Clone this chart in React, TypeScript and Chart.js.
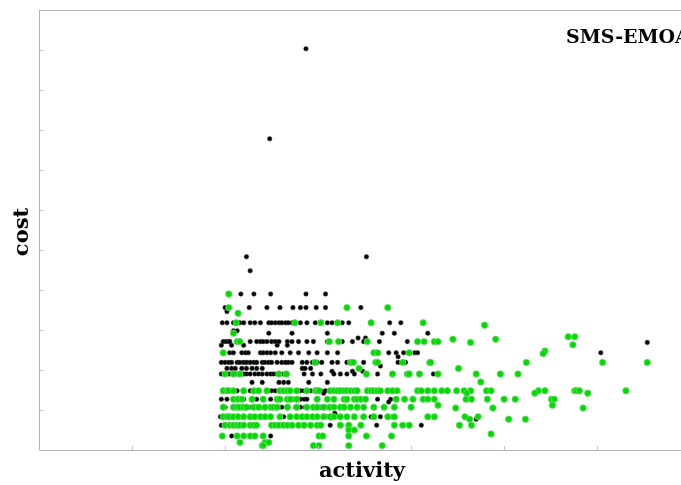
import React, { useEffect, useRef } from "react";
import Chart from "chart.js/auto";

const chartTitle = "SMS-EMOA";
const xAxisTitle = "activity";
const yAxisTitle = "cost";
const xTicks = [1, 2, 3, 4, 5, 6, 7];
const yTicks = [1, 2, 3, 4, 5, 6, 7, 8, 9, 10];

// black series: cost levels and the activity values at each level
const blackCost = [10.03, 7.78, 4.83, 4.48, 3.9, 3.56, 3.46, 3.18, 2.98, 2.92, 2.8, 2.71, 2.69, 2.62, 2.43, 2.33, 2.19, 2.1, 2.04, 1.97, 1.9, 1.69, 1.48, 1.42, 1.27, 1.2, 1.07, 0.92, 0.83, 0.8, 0.77, 0.62, 0.35];
const blackActivity = [
  [2.86],
  [2.47],
  [2.22, 3.51],
  [2.26],
  [2.16, 2.3, 2.48, 2.86, 3.07],
  [1.99, 2.25, 2.44, 2.58, 2.72, 2.8, 2.86, 2.97, 3.07, 3.45],
  [2.01],
  [1.96, 2.01, 2.08, 2.12, 2.15, 2.19, 2.26, 2.31, 2.37, 2.46, 2.49, 2.53, 2.57, 2.6, 2.64, 2.67, 2.71, 2.8, 2.87, 2.96, 3.09, 3.14, 3.2, 3.25, 3.32, 3.76, 3.88],
  [2.08, 2.12],
  [2.46, 2.71, 3.09, 3.68, 3.81, 4.17],
  [3.42, 3.5],
  [1.97, 2.0, 2.03, 2.04, 2.15, 2.26, 2.33, 2.37, 2.4, 2.44, 2.49, 2.53, 2.57, 2.66, 2.71, 2.78, 2.87, 2.94, 3.09, 3.25, 3.36, 3.48, 3.65, 3.95],
  [6.53],
  [1.95, 2.06, 2.19, 2.55, 2.66],
  [2.04, 2.08, 2.17, 2.21, 2.24, 2.37, 2.4, 2.44, 2.48, 2.53, 2.6, 2.69, 2.78, 2.89, 2.98, 3.09, 3.2, 3.64, 3.75, 3.83, 3.91, 4.03, 4.06, 6.03],
  [3.85],
  [1.95, 1.99, 2.03, 2.06, 2.12, 2.15, 2.19, 2.22, 2.26, 2.3, 2.33, 2.39, 2.42, 2.46, 2.49, 2.55, 2.6, 2.64, 2.67, 2.71, 2.82, 2.87, 2.93, 2.98, 3.03, 3.14, 3.2, 3.3, 3.48, 3.85, 3.93],
  [3.66],
  [2.01, 2.06, 2.1, 2.17, 2.22, 2.28, 2.33, 2.39, 2.82, 2.85, 2.91],
  [3.14, 3.36, 3.47],
  [1.95, 2.01, 2.04, 2.12, 2.19, 2.22, 2.26, 2.31, 2.35, 2.39, 2.44, 2.48, 2.51, 2.55, 2.58, 2.62, 2.84, 2.93, 3.02, 3.16, 3.23, 3.3, 3.38, 3.63, 4.23],
  [2.28, 2.39, 2.57, 2.62, 2.67, 2.89, 3.09],
  [2.12, 2.26, 2.44, 2.49, 2.53, 2.67, 2.8, 2.84, 2.91, 3.02, 3.07, 3.53],
  [3.05],
  [1.95, 2.01, 2.19, 2.33, 2.48, 2.73, 2.8, 2.84, 2.87, 3.63, 3.77],
  [3.75],
  [1.99, 2.24, 2.28, 2.31, 2.37, 2.6, 2.75, 2.8, 2.85, 3.02, 3.09],
  [3.17],
  [1.94, 2.04, 2.44, 2.62, 3.09, 3.2, 3.56, 3.66, 3.79],
  [3.13],
  [4.69],
  [1.95, 2.31, 2.82, 3.12, 3.62, 4.1],
  [2.06, 2.48],
];

// green series: cost levels and the activity values at each level
const greenCost = [3.9, 3.56, 3.42, 3.18, 3.12, 2.92, 2.83, 2.77, 2.71, 2.69, 2.63, 2.475, 2.43, 2.41, 2.19, 2.04, 1.9, 1.7, 1.48, 1.42, 1.27, 1.12, 1.07, 1.05, 0.83, 0.77, 0.62, 0.5, 0.4, 0.35, 0.19, 0.11];
const greenActivity = [
  [2.03],
  [2.03, 3.3, 3.74],
  [2.13],
  [2.11, 2.74, 3.02, 3.2, 3.56, 4.12],
  [4.78],
  [2.08],
  [5.68, 5.75],
  [4.44, 4.9],
  [2.12, 2.15, 3.11, 3.21, 3.52, 4.06, 4.13, 4.24, 4.28],
  [4.63],
  [5.73],
  [5.43],
  [1.97, 3.59, 3.63, 3.97],
  [5.41],
  [2.96, 3.34, 3.37, 3.61, 3.63, 3.9, 4.19, 4.2, 5.23, 6.05, 6.53],
  [3.43, 4.5],
  [1.99, 2.08, 2.15, 2.57, 2.65, 3.51, 3.79, 3.95, 3.97, 4.08, 4.28, 4.69, 4.95, 5.14],
  [4.74],
  [1.97, 2.01, 2.03, 2.08, 2.19, 2.3, 2.35, 2.44, 2.58, 2.62, 2.66, 2.69, 2.76, 2.87, 2.96, 2.98, 3.0, 3.12, 3.16, 3.2, 3.23, 3.27, 3.3, 3.34, 3.38, 3.41, 3.52, 3.56, 3.59, 3.63, 3.66, 3.74, 3.79, 3.84, 4.06, 4.1, 4.17, 4.24, 4.32, 4.38, 4.48, 4.56, 4.63, 4.8, 4.85, 5.36, 5.43, 5.75, 5.77, 5.8, 6.3],
  [4.59, 5.32, 5.89],
  [2.08, 2.13, 2.17, 2.28, 2.4, 2.55, 2.58, 2.66, 2.69, 2.76, 2.98, 3.09, 3.16, 3.27, 3.3, 3.38, 3.41, 3.45, 3.5, 3.83, 3.92, 4.01, 4.12, 4.17, 4.24, 4.58, 4.64, 4.81, 4.99, 5.11, 5.5, 5.53],
  [4.28, 5.51],
  [1.97, 2.08, 2.12, 2.15, 2.19, 2.22, 2.3, 2.35, 2.42, 2.48, 2.51, 2.55, 2.66, 2.76, 2.87, 2.94, 2.98, 3.05, 3.12, 3.16, 3.23, 3.27, 3.34, 3.41, 3.48, 3.59, 3.7, 3.81, 3.99],
  [4.47, 4.87, 5.84],
  [1.97, 2.01, 2.04, 2.08, 2.13, 2.19, 2.26, 2.31, 2.37, 2.42, 2.48, 2.58, 2.69, 2.76, 2.82, 2.87, 2.93, 2.98, 3.05, 3.12, 3.16, 3.23, 3.3, 3.38, 3.48, 3.59, 3.74, 3.81, 4.17, 4.24, 4.57, 4.71],
  [4.62, 5.04, 5.22],
  [1.99, 2.04, 2.08, 2.12, 2.15, 2.19, 2.26, 2.3, 2.33, 2.49, 2.53, 2.57, 2.62, 2.66, 2.71, 2.78, 2.84, 2.91, 2.98, 3.02, 3.23, 3.32, 3.45, 3.81, 3.9, 3.97, 4.51, 4.64],
  [3.32, 3.38],
  [4.85],
  [1.96, 2.12, 2.19, 2.26, 2.31, 2.4, 3.0, 3.04, 3.32, 3.51, 3.78],
  [2.15, 2.42, 2.46],
  [2.39, 2.4, 2.94, 3.0, 3.32, 3.68],
];

const toPoints = (levels: number[], rows: number[][]) =>
  levels.flatMap((c, i) => rows[i].map((a) => ({ x: a, y: c })));

const framePlugin = {
  id: "frame",
  afterDatasetsDraw(chart: any) {
    const { ctx, chartArea, scales } = chart;
    const { left, right, top, bottom } = chartArea;
    const xs = scales.x;
    const ys = scales.y;
    ctx.save();
    ctx.strokeStyle = "#b5b5b5";
    ctx.lineWidth = 1;
    ctx.beginPath();
    ctx.moveTo(left - 0.5, top + 0.5);
    ctx.lineTo(right, top + 0.5);
    ctx.moveTo(left - 0.5, top);
    ctx.lineTo(left - 0.5, bottom + 0.5);
    ctx.lineTo(right, bottom + 0.5);
    ctx.stroke();
    ctx.strokeStyle = "#c8c8c8";
    ctx.beginPath();
    xTicks.forEach((t) => {
      const px = Math.round(xs.getPixelForValue(t)) - 0.5;
      ctx.moveTo(px, bottom);
      ctx.lineTo(px, bottom - 4);
    });
    yTicks.forEach((t) => {
      const py = Math.round(ys.getPixelForValue(t)) + 0.5;
      ctx.moveTo(left, py);
      ctx.lineTo(left + 4, py);
    });
    ctx.stroke();

    ctx.fillStyle = "#000";
    ctx.font = "bold 19px 'DejaVu Serif'";
    ctx.textAlign = "left";
    ctx.textBaseline = "alphabetic";
    ctx.fillText(chartTitle, left + 526, top + 33);

    ctx.font = "bold 21px 'DejaVu Serif'";
    ctx.textAlign = "center";
    ctx.fillText(xAxisTitle, 362, bottom + 27);

    ctx.translate(28, (top + bottom) / 2 + 2);
    ctx.rotate(-Math.PI / 2);
    ctx.fillText(yAxisTitle, 0, 0);
    ctx.restore();
  },
};

export default function App() {
  const ref = useRef<HTMLCanvasElement>(null);
  useEffect(() => {
    if (!ref.current) return;
    const chart = new Chart(ref.current, {
      type: "scatter",
      data: {
        datasets: [
          {
            label: "green",
            data: toPoints(greenCost, greenActivity),
            backgroundColor: "#00dc00",
            borderColor: "#6fd86f",
            borderWidth: 0.8,
            pointRadius: 3.2,
          },
          {
            label: "black",
            data: toPoints(blackCost, blackActivity),
            backgroundColor: "#000000",
            borderColor: "#444444",
            borderWidth: 0.5,
            pointRadius: 2.3,
          },
        ],
      },
      plugins: [framePlugin],
      options: {
        animation: false,
        responsive: false,
        events: [],
        layout: { padding: { left: 40, top: 10, right: 16, bottom: 35 } },
        plugins: { legend: { display: false }, tooltip: { enabled: false } },
        scales: {
          x: { type: "linear", min: 0, max: 8, display: false },
          y: { type: "linear", min: 0, max: 11, display: false },
        },
      },
    });
    return () => chart.destroy();
  }, []);
  return (
    <div style={{ position: "fixed", left: 0, top: 0, width: 681, height: 485, overflow: "hidden", background: "#fff" }}>
      <canvas ref={ref} width={800} height={485} style={{ display: "block", width: 800, height: 485 }} />
    </div>
  );
}
